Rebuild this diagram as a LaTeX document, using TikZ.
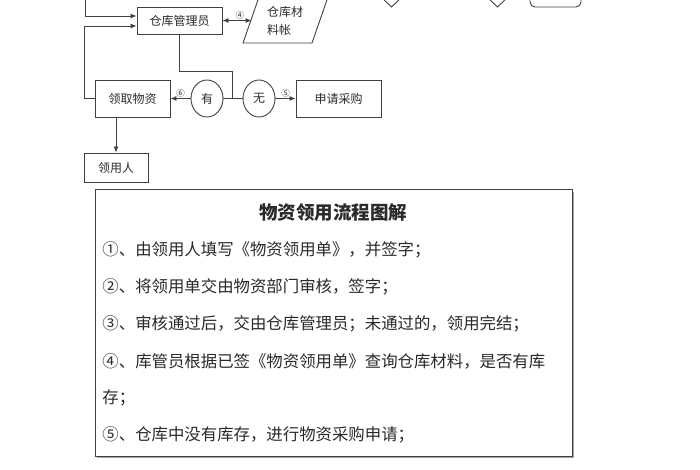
\documentclass[tikz,border=0pt]{standalone}
\usepackage{fontspec}
\newfontfamily\cjk{Noto Sans CJK SC}
\usetikzlibrary{arrows.meta,shapes.geometric}
\definecolor{ln}{HTML}{404040}
\definecolor{tx}{HTML}{2A2A2A}
\begin{document}
\begin{tikzpicture}[x=1pt,y=-1pt,
  line width=0.9pt,
  box/.style={draw=ln,rectangle,inner sep=0pt,font=\cjk\fontsize{12}{14}\selectfont,text=tx},
  circ/.style={draw=ln,ellipse,minimum width=32pt,minimum height=37pt,inner sep=0pt,font=\cjk\fontsize{12}{14}\selectfont,text=tx},
  arr/.style={draw=ln,-{Latex[length=6pt,width=5pt]}},
  lab/.style={font=\cjk\fontsize{8.5}{9}\selectfont,text=tx,inner sep=1pt},
  item/.style={anchor=west,font=\cjk\fontsize{16.4}{18}\selectfont,text=tx,inner sep=0pt}]
\useasboundingbox (0,0) rectangle (700,470);
\clip (0,0) rectangle (700,470);
% nodes of the flowchart
\node[box,minimum width=85pt,minimum height=27pt] (mgr) at (179.5,20.5) {仓库管理员};
\draw[ln] (259,-3) -- (328,-3) -- (312,43) -- (243,43) -- cycle;
\node[font=\cjk\fontsize{12}{18}\selectfont,text=tx,align=left,inner sep=0pt] (acct) at (285,21) {仓库材\\料帐};
\coordinate (acctl) at (251.6,20.5);
\node[box,minimum width=75pt,minimum height=37pt] (take) at (132.5,98.5) {领取物资};
\node[circ] (have) at (207,98.5) {有};
\node[circ] (no) at (259,98.5) {无};
\node[box,minimum width=85pt,minimum height=37pt] (buy) at (338.5,98.5) {申请采购};
\node[box,minimum width=64pt,minimum height=29pt] (user) at (116,167.5) {领用人};
\coordinate (top) at (85,-3);
\coordinate (jn) at (232,98.5);
% top-right partial shapes
\draw[ln] (378,-6) -- (391.5,7) -- (405,-6);
\draw[ln] (484,-6) -- (497.5,7) -- (511,-6);
\draw[ln,rounded corners=5pt] (530,-20) rectangle (581,7);
% connectors
\draw[arr] (top) |- ([yshift=4.5pt]mgr.west);
\draw[arr] (take.west) -- ++(-10,0) |- ([yshift=-5.5pt]mgr.west);
\draw[draw=ln,{Latex[length=6pt,width=5pt]}-{Latex[length=6pt,width=5pt]}] (mgr.east|-acctl) -- node[lab,above,pos=0.6] {④} (acctl);
\draw[ln] (mgr.south) -- ++(0,37) -| (jn);
\draw[ln] (have.east) -- (no.west);
\draw[arr] (have.west) -- node[lab,above] {⑥} (take.east);
\draw[arr] (no.east) -- node[lab,above] {⑤} (buy.west);
\draw[arr] (take.south-|user.north) -- (user.north);
% explanation box
\fill[black!35] (97,192) rectangle (574,458);
\draw[ln,fill=white,line width=1pt] (95,190) rectangle (572,456);
\node[font=\cjk\fontsize{18.5}{20}\selectfont\bfseries,text=tx] (title) at (333,213) {物资领用流程图解};
\node[item] (l1) at (102,250) {①、由领用人填写《物资领用单》，并签字；};
\node[item] (l2) at (102,287) {②、将领用单交由物资部门审核，签字；};
\node[item] (l3) at (102,324) {③、审核通过后，交由仓库管理员；未通过的，领用完结；};
\node[item] (l4) at (102,361) {④、库管员根据已签《物资领用单》查询仓库材料，是否有库};
\node[item] (l4b) at (102,398) {存；};
\node[item] (l5) at (102,435) {⑤、仓库中没有库存，进行物资采购申请；};
\end{tikzpicture}
\end{document}
